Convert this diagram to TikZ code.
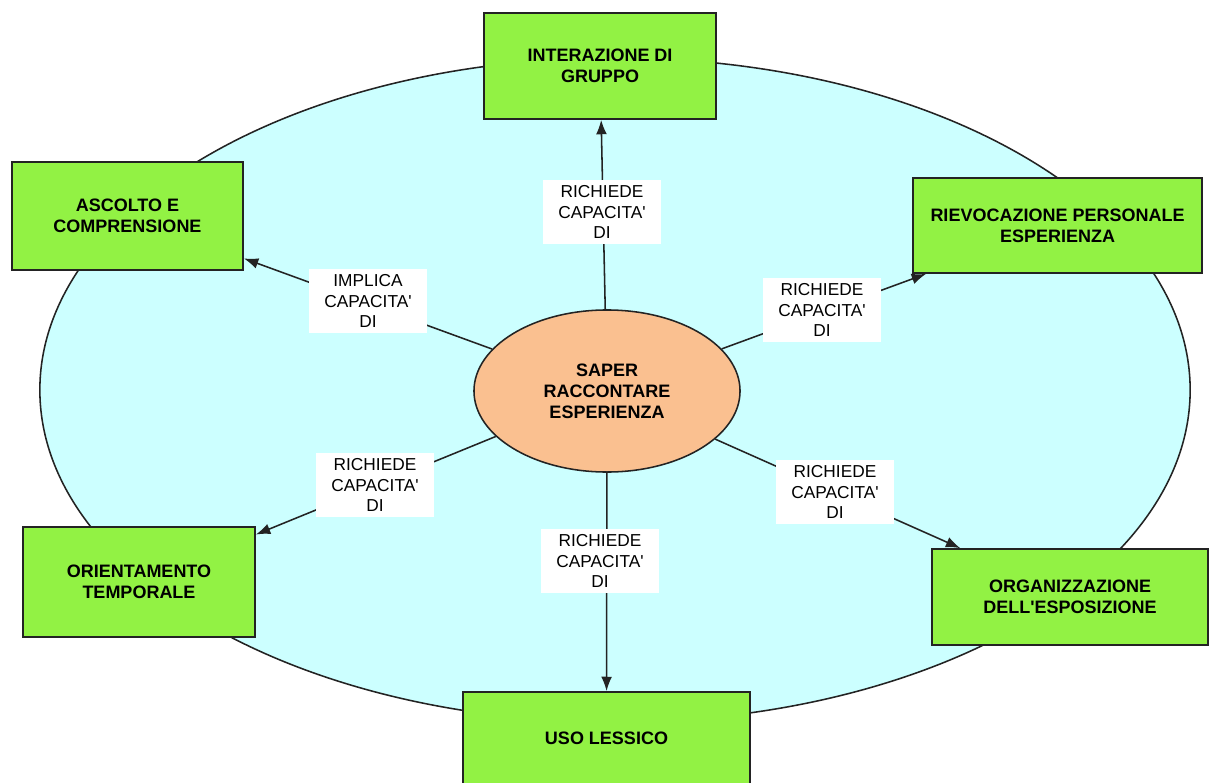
\documentclass[tikz,border=0pt]{standalone}
\usepackage{fontspec}
\setmainfont{Liberation Sans}
\usetikzlibrary{shapes.geometric,arrows.meta}

\definecolor{skyfill}{RGB}{204,255,255}
\definecolor{boxgreen}{RGB}{146,242,68}
\definecolor{peach}{RGB}{250,192,144}
\definecolor{edgegray}{RGB}{35,35,35}

\def\px{0.025cm} %one pixel of the reference

\begin{document}
\begin{tikzpicture}[x=\px,y=-\px,
	skill/.style={rectangle,draw=edgegray,line width=1.2pt,fill=boxgreen,align=center,inner sep=0pt,font=\fontsize{12.8}{15}\selectfont\bfseries},
	link/.style={draw=edgegray,line width=1.1pt,-{Latex[length=0.36cm,width=0.27cm]}},
	lbl/.style={fill=white,align=center,inner sep=0pt,minimum width=2.95cm,minimum height=1.6cm,font=\fontsize{12.3}{14.9}\selectfont}]
	
	\useasboundingbox (0,0) rectangle (1209,782);
	\fill[white] (0,0) rectangle (1209,782);
	
	%BACKGROUND ELLIPSE
	\draw[fill=skyfill,draw=edgegray,line width=1.1pt] (615,390) ellipse [x radius=14.375cm,y radius=8.3cm];
	
	%CENTRE
	\node[ellipse,draw=edgegray,line width=1.1pt,fill=peach,minimum width=6.65cm,minimum height=4.05cm,inner sep=0pt,align=center,font=\fontsize{12.8}{15}\selectfont\bfseries] (core) at (607,391) {SAPER\\RACCONTARE\\ESPERIENZA};
	
	%SKILLS
	\node[skill,minimum width=5.8cm,minimum height=2.65cm] (gruppo) at (600,66) {INTERAZIONE DI\\GRUPPO};
	\node[skill,minimum width=5.775cm,minimum height=2.7cm] (ascolto) at (127.5,216) {ASCOLTO E\\COMPRENSIONE};
	\node[skill,minimum width=7.225cm,minimum height=2.375cm] (rievoc) at (1057.5,225.5) {RIEVOCAZIONE PERSONALE\\ESPERIENZA};
	\node[skill,minimum width=5.8cm,minimum height=2.75cm] (orient) at (139,582) {ORIENTAMENTO\\TEMPORALE};
	\node[skill,minimum width=7.175cm,minimum height=2.3cm] (lessico) at (606.5,738) {USO LESSICO};
	\node[skill,minimum width=6.9cm,minimum height=2.4cm] (espos) at (1070,597) {ORGANIZZAZIONE\\DELL\textquotesingle ESPOSIZIONE};
	
	%LINKS
	\draw[link] (core) -- (gruppo);
	\draw[link] (core) -- (ascolto);
	\draw[link] (core) -- (rievoc);
	\draw[link] (core) -- (orient);
	\draw[link] (core) -- (lessico);
	\draw[link] (core) -- (espos);
	
	%LABELS
	\node[lbl] (lgruppo) at (602,212) {RICHIEDE\\CAPACITA\textquotesingle\\DI};
	\node[lbl] (lascolto) at (368,301) {IMPLICA\\CAPACITA\textquotesingle\\DI};
	\node[lbl] (lrievoc) at (822,310) {RICHIEDE\\CAPACITA\textquotesingle\\DI};
	\node[lbl] (lorient) at (375,485) {RICHIEDE\\CAPACITA\textquotesingle\\DI};
	\node[lbl] (llessico) at (600,561) {RICHIEDE\\CAPACITA\textquotesingle\\DI};
	\node[lbl] (lespos) at (835,492) {RICHIEDE\\CAPACITA\textquotesingle\\DI};
	
\end{tikzpicture}
\end{document}
